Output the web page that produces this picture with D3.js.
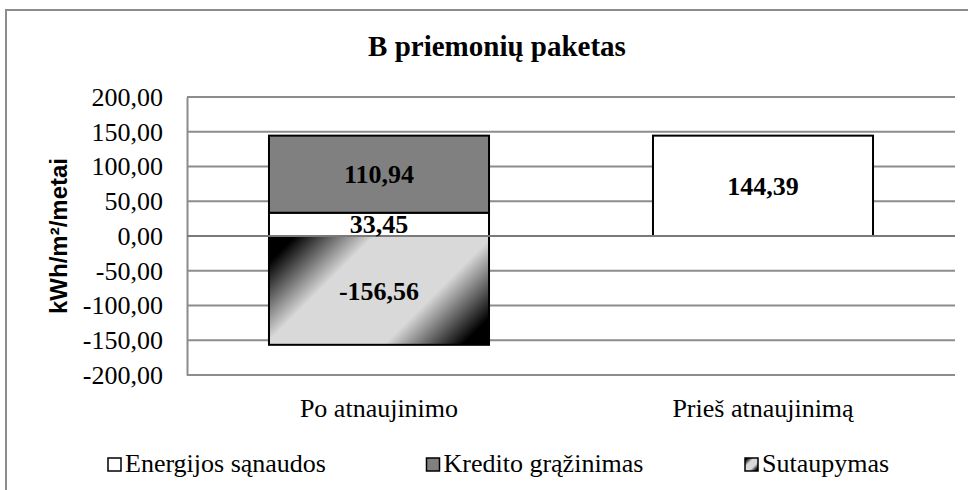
<!DOCTYPE html>
<html><head><meta charset="utf-8">
<script src="https://cdn.jsdelivr.net/npm/d3@7"></script>
<style>body{margin:0;background:#fff}svg{display:block}
.serif{font-family:"Liberation Serif","Times New Roman","DejaVu Serif",serif}
.sans{font-family:"Liberation Sans",Arial,sans-serif}</style>
</head><body>
<svg id="c" width="968" height="490"></svg>
<script>
const title = "B priemonių paketas";
const yAxisTitle = "kWh/m²/metai";
const categories = ["Po atnaujinimo", "Prieš atnaujinimą"];
const seriesNames = ["Energijos sąnaudos", "Kredito grąžinimas", "Sutaupymas"];
const energijos = [33.45, 144.39];
const kredito = [110.94, null];
const sutaupymas = [-156.56, null];
const yTicks = [-200, -150, -100, -50, 0, 50, 100, 150, 200];

const svg = d3.select("#c");
const fmt = v => d3.format(".2f")(v).replace(".", ",").replace("\u2212", "-");

// outer chart border
svg.append("rect").attr("x", 6).attr("y", 10).attr("width", 990).attr("height", 500)
  .attr("fill", "#fff").attr("stroke", "#8c8c8c").attr("stroke-width", 2);

const defs = svg.append("defs");
const y = d3.scaleLinear().domain([-200, 200]).range([375, 97]);
const x = d3.scaleBand().domain(categories).range([187, 955]).paddingInner(0.427).paddingOuter(0.2135);

// gridlines
svg.append("g").selectAll("line").data(yTicks).join("line")
  .attr("x1", 187).attr("x2", 955)
  .attr("y1", d => y(d)).attr("y2", d => y(d))
  .attr("stroke", "#8c8c8c").attr("stroke-width", 2);

// y axis
const yAxis = svg.append("g").attr("transform", "translate(187,0)")
  .call(d3.axisLeft(y).tickValues(yTicks).tickSize(0).tickSizeOuter(0).tickPadding(24).tickFormat(fmt));
yAxis.attr("font-family", null).attr("font-size", null);
yAxis.select(".domain").attr("stroke", "#8c8c8c").attr("stroke-width", 2);
yAxis.selectAll("text").attr("class", "serif").attr("font-size", 26).attr("fill", "#000");

// build stacked segments
const segs = [];
categories.forEach((c, i) => {
  let pos = 0;
  if (energijos[i] != null) { segs.push({c, s: 0, y0: pos, y1: pos + energijos[i], v: energijos[i]}); pos += energijos[i]; }
  if (kredito[i] != null) { segs.push({c, s: 1, y0: pos, y1: pos + kredito[i], v: kredito[i]}); pos += kredito[i]; }
  if (sutaupymas[i] != null) { segs.push({c, s: 2, y0: 0, y1: sutaupymas[i], v: sutaupymas[i]}); }
});

// gradient for Sutaupymas (diagonal 45deg in user space)
segs.filter(d => d.s === 2).forEach((d, k) => {
  const x0 = x(d.c), top = y(Math.max(d.y0, d.y1));
  const w = x.bandwidth(), h = Math.abs(y(d.y0) - y(d.y1));
  const L = (w + h) / 2;
  const g = defs.append("linearGradient").attr("id", "grad" + k).attr("gradientUnits", "userSpaceOnUse")
    .attr("x1", x0).attr("y1", top).attr("x2", x0 + L).attr("y2", top + L);
  [[0, "#000"], [0.08, "#000"], [0.32, "#d9d9d9"], [0.68, "#d9d9d9"], [0.92, "#000"], [1, "#000"]]
    .forEach(([o, col]) => g.append("stop").attr("offset", o).attr("stop-color", col));
  d.fill = "url(#grad" + k + ")";
});
const legGrad = defs.append("linearGradient").attr("id", "legGrad").attr("x1", 0).attr("y1", 0).attr("x2", 1).attr("y2", 1);
[[0, "#000"], [0.1, "#000"], [0.35, "#d9d9d9"], [0.65, "#d9d9d9"], [0.9, "#000"], [1, "#000"]]
  .forEach(([o, col]) => legGrad.append("stop").attr("offset", o).attr("stop-color", col));

const fills = ["#ffffff", "#808080", "url(#legGrad)"];

svg.append("g").selectAll("rect").data(segs).join("rect")
  .attr("x", d => x(d.c)).attr("width", x.bandwidth())
  .attr("y", d => y(Math.max(d.y0, d.y1)))
  .attr("height", d => Math.abs(y(d.y0) - y(d.y1)))
  .attr("fill", d => d.fill || fills[d.s])
  .attr("stroke", "#000").attr("stroke-width", 2);

// zero line over bars
svg.append("line").attr("x1", 187).attr("x2", 955).attr("y1", y(0)).attr("y2", y(0))
  .attr("stroke", "#7a7a7a").attr("stroke-width", 2);

// data labels
svg.append("g").selectAll("text").data(segs).join("text")
  .attr("class", "serif")
  .attr("x", d => x(d.c) + x.bandwidth() / 2)
  .attr("y", d => y((d.y0 + d.y1) / 2))
  .attr("dy", "0.35em").attr("text-anchor", "middle")
  .attr("font-size", 26).attr("font-weight", "bold")
  .text(d => fmt(d.v));

// category labels
svg.append("g").selectAll("text").data(categories).join("text")
  .attr("class", "serif")
  .attr("x", d => x(d) + x.bandwidth() / 2).attr("y", 417)
  .attr("text-anchor", "middle").attr("font-size", 26)
  .text(d => d);

// title
svg.append("text").attr("class", "serif").attr("x", 497).attr("y", 56).attr("text-anchor", "middle")
  .attr("font-size", 29).attr("font-weight", "bold").text(title);

// y axis title
svg.append("text").attr("class", "sans").attr("transform", "translate(67,236) rotate(-90)").attr("text-anchor", "middle")
  .attr("font-size", 24).attr("font-weight", "bold").text(yAxisTitle);

// legend
const leg = svg.append("g").selectAll("g").data(seriesNames).join("g")
  .attr("transform", (d, i) => `translate(${108 + i * 318.5},458)`);
leg.append("rect").attr("width", 13).attr("height", 13)
  .attr("fill", (d, i) => fills[i]).attr("stroke", "#000").attr("stroke-width", 1.5);
leg.append("text").attr("class", "serif").attr("x", 17).attr("y", 13.5)
  .attr("font-size", 26).text(d => d);
</script>
</body></html>
